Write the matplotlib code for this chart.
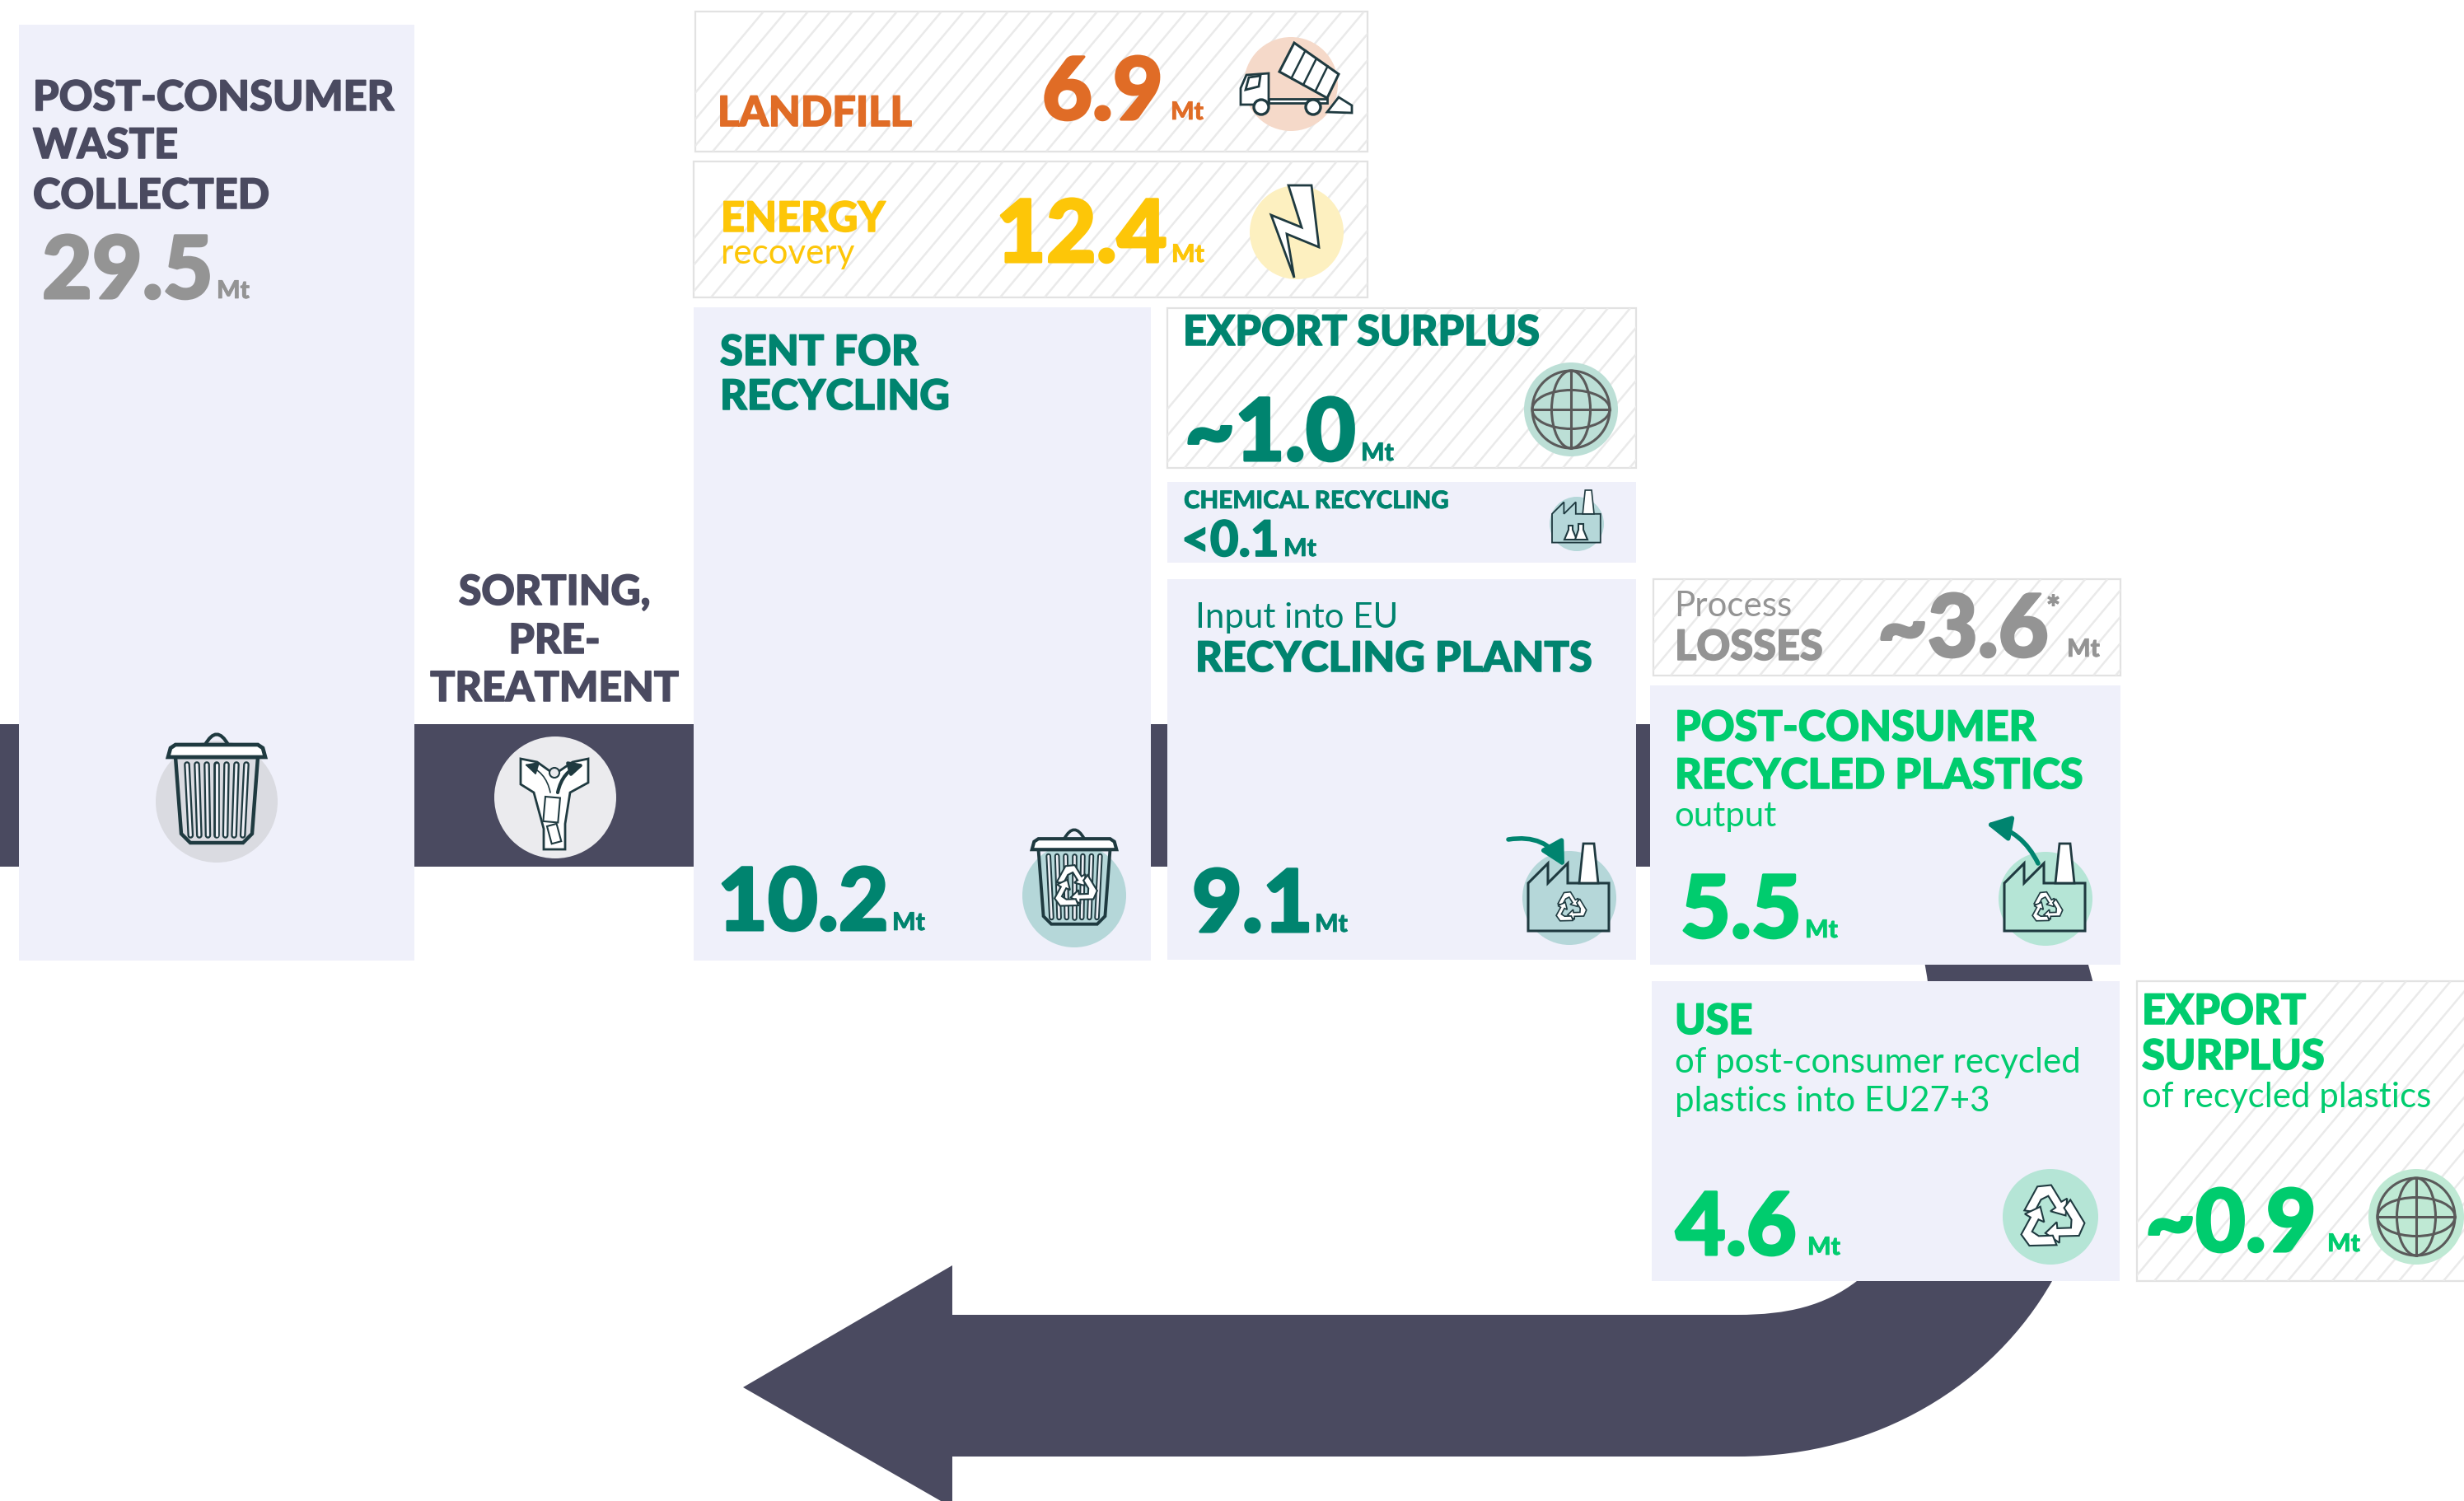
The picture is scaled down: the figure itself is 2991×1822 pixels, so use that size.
import numpy as np
import matplotlib
matplotlib.use('Agg')
import matplotlib.pyplot as plt
import matplotlib.patheffects as pe
from matplotlib.patches import Rectangle, Circle, Ellipse, Polygon, PathPatch, FancyArrowPatch
from matplotlib.path import Path
from matplotlib.collections import LineCollection

# 값과 라벨
value_names = ['collected', 'landfill', 'energy', 'sent', 'export_in', 'chemical',
               'input', 'losses', 'output', 'use', 'export_out']
value_texts = ['29.5', '6.9', '12.4', '10.2', '~1.0', '<0.1', '9.1', '~3.6', '5.5', '4.6', '~0.9']
unit = 'Mt'

heavy_labels = ['POST-CONSUMER', 'WASTE', 'COLLECTED', 'LANDFILL', 'ENERGY', 'SENT FOR', 'RECYCLING',
                'EXPORT SURPLUS', 'RECYCLING PLANTS', 'LOSSES', 'POST-CONSUMER', 'RECYCLED PLASTICS',
                'USE', 'EXPORT', 'SURPLUS']
light_labels = ['recovery', 'Input into EU', 'Process', 'output', 'of post-consumer recycled',
                'plastics into EU27+3', 'of recycled plastics']
sorting_lines = ['SORTING,', 'PRE-', 'TREATMENT']
chemical_label = 'CHEMICAL RECYCLING'

# 색
NAVY = '#4a4a60'
TEAL = '#00846f'
GREEN = '#00cc6e'
GREY = '#949494'
ORANGE = '#e06c26'
YELLOW = '#fdc608'
LAV = '#eff0fa'
INK = '#1f3a40'

value_colors = [GREY, ORANGE, YELLOW, TEAL, TEAL, TEAL, TEAL, GREY, GREEN, GREEN, GREEN]

# 위치 (픽셀)
value_x = [51, 1265, 1209, 871, 1438, 1434, 1447, 2279, 2040, 2034, 2604]
value_y = [362, 145, 318, 1129, 559, 675, 1131, 797, 1138, 1523, 1519]
value_px = [105, 105, 105, 105, 105, 60, 105, 105, 105, 105, 105]
unit_x = [263, 1421, 1422, 1083, 1652, 1558, 1596, 2509, 2191, 2194, 2825]

heavy_x = [40, 40, 40, 871, 875, 874, 874, 1436, 1451, 2033, 2033, 2033, 2033, 2600, 2600]
heavy_y = [134, 192, 253, 153, 281, 443, 497, 419, 815, 801, 899, 957, 1255, 1243, 1298]
heavy_c = [NAVY, NAVY, NAVY, ORANGE, YELLOW, TEAL, TEAL, TEAL, TEAL, GREY, GREEN, GREEN, GREEN, GREEN, GREEN]
light_x = [875, 1451, 2032, 2032, 2033, 2033, 2600]
light_y = [320, 762, 748, 1003, 1302, 1349, 1344]
light_c = [YELLOW, TEAL, GREY, GREEN, GREEN, GREEN, GREEN]

plain_boxes = [(23, 30, 503, 1166), (842, 373, 1397, 1166), (1417, 585, 1986, 683), (1417, 703, 1986, 1165),
               (2003, 832, 2574, 1171), (2005, 1191, 2573, 1555)]
hatch_boxes = [(844, 14, 1660, 184), (842, 196, 1660, 361), (1417, 374, 1986, 568),
               (2007, 703, 2574, 820), (2594, 1191, 2995, 1555)]
band_pieces = [(0, 23), (503, 842), (1397, 1417), (1986, 2003)]

W, H = 2991, 1822
fig = plt.figure(figsize=(W / 100, H / 100), dpi=100)
ax = fig.add_axes([0, 0, 1, 1])
ax.set_xlim(0, W)
ax.set_ylim(H, 0)
ax.axis('off')


def px(size):
    return size * 0.72


def label(x, y, s, size, color, weight='bold', ha='left', z=6, stroke=0):
    t = ax.text(x, y, s, fontsize=px(size), color=color, family='Lato', weight=weight,
                ha=ha, va='baseline', zorder=z)
    if stroke:
        t.set_path_effects([pe.withStroke(linewidth=stroke, foreground=color)])


def recycle(cx, cy, r, z=5, lw=1.5):
    # 화살표 3개
    base = np.array([[-0.72, -0.22], [-0.36, -0.88], [0.02, -0.92], [0.3, -0.46], [0.46, -0.55],
                     [0.42, -0.08], [0.0, -0.2], [0.14, -0.3], [-0.06, -0.62], [-0.26, -0.52], [-0.44, -0.18]])
    for a in (0, 120, 240):
        t = np.radians(a)
        rot = np.array([[np.cos(t), -np.sin(t)], [np.sin(t), np.cos(t)]])
        ax.add_patch(Polygon(base @ rot.T * r + [cx, cy], closed=True, fc='white', ec=INK, lw=lw, zorder=z))


def globe(cx, cy, r, c='#5a5a5a'):
    kw = dict(fc='none', ec=c, lw=2.2, zorder=5)
    ax.add_patch(Circle((cx, cy), r, **kw))
    ax.add_patch(Ellipse((cx, cy), r, 2 * r, **kw))
    ax.add_patch(Ellipse((cx, cy), 2 * r, r, **kw))
    ax.plot([cx - r, cx + r], [cy, cy], color=c, lw=2.2, zorder=5)
    ax.plot([cx, cx], [cy - r, cy + r], color=c, lw=2.2, zorder=5)


def bin_icon(cx, top, s, mark=False):
    # s = 1 : 쓰레기통 높이 133px
    def pt(x, y):
        return (cx + x * s, top + y * s)
    ax.add_patch(FancyArrowPatch(pt(-14, 14), pt(14, 14), connectionstyle='arc3,rad=-0.9', arrowstyle='-',
                                 color=INK, lw=3 * s, zorder=5, shrinkA=0, shrinkB=0))
    ax.add_patch(Polygon([pt(-50, 29), pt(50, 29), pt(43, 122), pt(32, 133), pt(-32, 133), pt(-43, 122)],
                         closed=True, fc='none', ec=INK, lw=3.2 * s, zorder=5))
    for dx in np.arange(-36, 37, 12):
        ax.plot([cx + dx * s, cx + dx * .88 * s], [top + 38 * s, top + 124 * s], color=INK, lw=5.5 * s,
                solid_capstyle='round', zorder=5)
        ax.plot([cx + dx * s, cx + dx * .88 * s], [top + 38 * s, top + 124 * s], color='#eff0f6', lw=2.2 * s,
                solid_capstyle='round', zorder=5)
    ax.add_patch(Polygon([pt(-59, 29), pt(-56, 18), pt(-50, 14), pt(50, 14), pt(56, 18), pt(59, 29)],
                         closed=True, fc='white', ec=INK, lw=3.4 * s, zorder=5))
    if mark:
        recycle(cx, top + 82 * s, 34 * s, z=6, lw=1.5)


def factory(x0, top, fill, s=1.0, flask=False):
    # 왼쪽 위 기준, 폭 98
    def pt(x, y):
        return (x0 + x * s, top + y * s)
    ax.add_patch(Polygon([pt(0, 106), pt(0, 48), pt(24, 24), pt(24, 48), pt(48, 24), pt(48, 48),
                          pt(98, 48), pt(98, 106)], closed=True, fc=fill, ec=INK, lw=2.2 * s, zorder=5))
    ax.add_patch(Polygon([pt(62, 48), pt(67, 0), pt(80, 0), pt(85, 48)], closed=True, fc='white', ec=INK,
                         lw=2 * s, zorder=5))
    if not flask:
        recycle(x0 + 51 * s, top + 78 * s, 21 * s, lw=1.2)


def teal_arrow(a, b, rad):
    ax.add_patch(FancyArrowPatch(a, b, connectionstyle=f'arc3,rad={rad}', arrowstyle='-|>,head_length=17,head_width=9',
                                 color=TEAL, lw=4, mutation_scale=1, zorder=6, shrinkA=0, shrinkB=0))


# 밴드
for x0, x1 in band_pieces:
    ax.add_patch(Rectangle((x0, 879), x1 - x0, 173, fc=NAVY, ec='none', zorder=1))

# 되돌아오는 큰 화살표
verts = [(2529, 1150), (2570, 1290), (2580, 1400), (2491, 1555),
         (2420, 1680), (2280, 1768), (2110, 1768),
         (1156, 1768), (1156, 1830), (902, 1684), (1156, 1536), (1156, 1596), (2109, 1596),
         (2170, 1596), (2215, 1585), (2254, 1555),
         (2310, 1480), (2370, 1300), (2332, 1150), (2529, 1150)]
codes = [Path.MOVETO, Path.CURVE4, Path.CURVE4, Path.CURVE4, Path.CURVE4, Path.CURVE4, Path.CURVE4,
         Path.LINETO, Path.LINETO, Path.LINETO, Path.LINETO, Path.LINETO, Path.LINETO,
         Path.CURVE4, Path.CURVE4, Path.CURVE4, Path.CURVE4, Path.CURVE4, Path.CURVE4, Path.CLOSEPOLY]
ax.add_patch(PathPatch(Path(verts, codes), fc=NAVY, ec='none', zorder=1))

# 상자
for x0, y0, x1, y1 in plain_boxes:
    ax.add_patch(Rectangle((x0, y0), x1 - x0, y1 - y0, fc=LAV, ec='none', zorder=2))
for x0, y0, x1, y1 in hatch_boxes:
    rect = Rectangle((x0, y0), x1 - x0, y1 - y0, fc='white', ec='#e2e2e2', lw=1.6, zorder=2)
    ax.add_patch(rect)
    off = np.arange(x0 - 60, x1 + (y1 - y0), 27)
    segs = [[(o, y1), (o + (y1 - y0) * 0.84, y0)] for o in off]
    lc = LineCollection(segs, colors='#eaeaea', linewidths=1.8, zorder=2.5)
    ax.add_collection(lc)
    lc.set_clip_path(rect)

# 아이콘 원
circles = [(263, 973, 74, '#dadbe1'), (674, 968, 74, '#ebebee'), (1304, 1087, 63, '#b5d7d9'),
           (1567, 102, 57, '#f5d9c9'), (1574, 282, 57, '#fdf0c0'), (1907, 497, 57, '#bcdfd6'),
           (1914, 636, 33, '#b5d7d9'), (1905, 1090, 57, '#b5d7d9'), (2483, 1091, 57, '#b5e5d6'),
           (2489, 1477, 58, '#b5e5d6'), (2933, 1477, 58, '#bfe9d4')]
for cx, cy, r, c in circles:
    ax.add_patch(Circle((cx, cy), r, fc=c, ec='none', zorder=3))

bin_icon(263, 890, 1.0)
bin_icon(1304, 1006, 0.87, mark=True)
globe(1907, 497, 47)
globe(2933, 1477, 47)
factory(1855, 1024, '#b5d7d9')
factory(2433, 1024, '#b5e5d6')
factory(1884, 595, '#b5d7d9', s=0.6, flask=True)
recycle(2489, 1479, 44)
ax.add_patch(Polygon([(1899, 655), (1904, 643), (1904, 638), (1909, 638), (1909, 643), (1914, 655)], closed=True,
                     fc='white', ec=INK, lw=1.5, zorder=6))
ax.add_patch(Polygon([(1912, 655), (1916, 643), (1916, 636), (1922, 636), (1922, 643), (1927, 655)], closed=True,
                     fc='white', ec=INK, lw=1.5, zorder=6))
teal_arrow((1831, 1019), (1899, 1052), -0.35)
teal_arrow((2474, 1048), (2411, 1000), 0.25)

# 번개
ax.add_patch(Polygon([(1564, 225), (1580, 276), (1543, 261), (1571, 337), (1562, 284), (1601, 300), (1592, 225)],
                     closed=True, fc='white', ec=INK, lw=2, zorder=5))

# 트럭
ax.add_patch(Polygon([(1571, 52), (1625, 90), (1611, 119), (1553, 87)], closed=True, fc='white', ec=INK, lw=2.2, zorder=5))
for t in (0.25, 0.5, 0.75):
    ax.plot([1571 + 54 * t, 1553 + 58 * t], [52 + 38 * t, 87 + 32 * t], color=INK, lw=1.8, zorder=5)
ax.add_patch(Polygon([(1506, 127), (1506, 107), (1513, 91), (1540, 89), (1540, 127)], closed=True, fc='white', ec=INK, lw=2, zorder=5))
ax.add_patch(Polygon([(1512, 109), (1516, 94), (1530, 92), (1528, 105)], closed=True, fc='white', ec=INK, lw=2, zorder=5))
ax.add_patch(Rectangle((1540, 120), 71, 5, fc='white', ec=INK, lw=2, zorder=5))
for wx in (1531, 1594):
    ax.add_patch(Circle((wx, 130), 9, fc='white', ec=INK, lw=2.4, zorder=6))
ax.add_patch(Polygon([(1611, 136), (1625, 118), (1641, 128), (1641, 137)], closed=True, fc='white', ec=INK, lw=2, zorder=5))

# 분류 아이콘
ax.add_patch(Polygon([(632, 921), (632, 952), (648, 962), (660, 1006), (660, 1031), (686, 1031), (686, 1000),
                      (692, 962), (714, 950), (714, 921), (695, 925), (673, 940), (652, 925)],
                     closed=True, fc='white', ec=INK, lw=2, zorder=5))
ax.add_patch(Rectangle((662, 967), 18, 30, angle=5, fc='white', ec=INK, lw=1.5, zorder=6))
ax.add_patch(Rectangle((664, 1003), 12, 22, angle=-15, fc='white', ec=INK, lw=1.5, zorder=6))
ax.add_patch(Circle((673, 938), 6, fc='#ebebee', ec=INK, lw=1.5, zorder=6))
head = dict(arrowstyle='-|>,head_length=10,head_width=5', mutation_scale=1, shrinkA=0, shrinkB=0, zorder=6)
ax.add_patch(FancyArrowPatch((677, 962), (709, 928), connectionstyle='arc3,rad=-0.3', color=INK, lw=3, **head))
ax.add_patch(FancyArrowPatch((668, 962), (637, 928), connectionstyle='arc3,rad=0.3', color=INK, lw=1.2, **head))

# 글자
for x, y, s, c in zip(heavy_x, heavy_y, heavy_labels, heavy_c):
    label(x, y, s, 50.5, c, weight='black', stroke=1.1)
for x, y, s, c in zip(light_x, light_y, light_labels, light_c):
    label(x, y, s, 42, c, weight='regular')
for s, y in zip(sorting_lines, (734, 793, 851)):
    label(673, y, s, 50, NAVY, weight='black', ha='center', stroke=1.1)
label(1437, 617, chemical_label, 29.5, TEAL, weight='black', stroke=0.5)

for name, s, c, x, y, size, ux in zip(value_names, value_texts, value_colors, value_x, value_y, value_px, unit_x):
    label(x, y, s, size, c, weight='black', stroke=2.2 if size > 80 else 1.2)
    label(ux, y, unit, 30, c, weight='black', stroke=0.5)
label(2484, 752, '*', 40, GREY, weight='black', stroke=0.8)

fig.savefig('out.png', dpi=100, facecolor='white')
